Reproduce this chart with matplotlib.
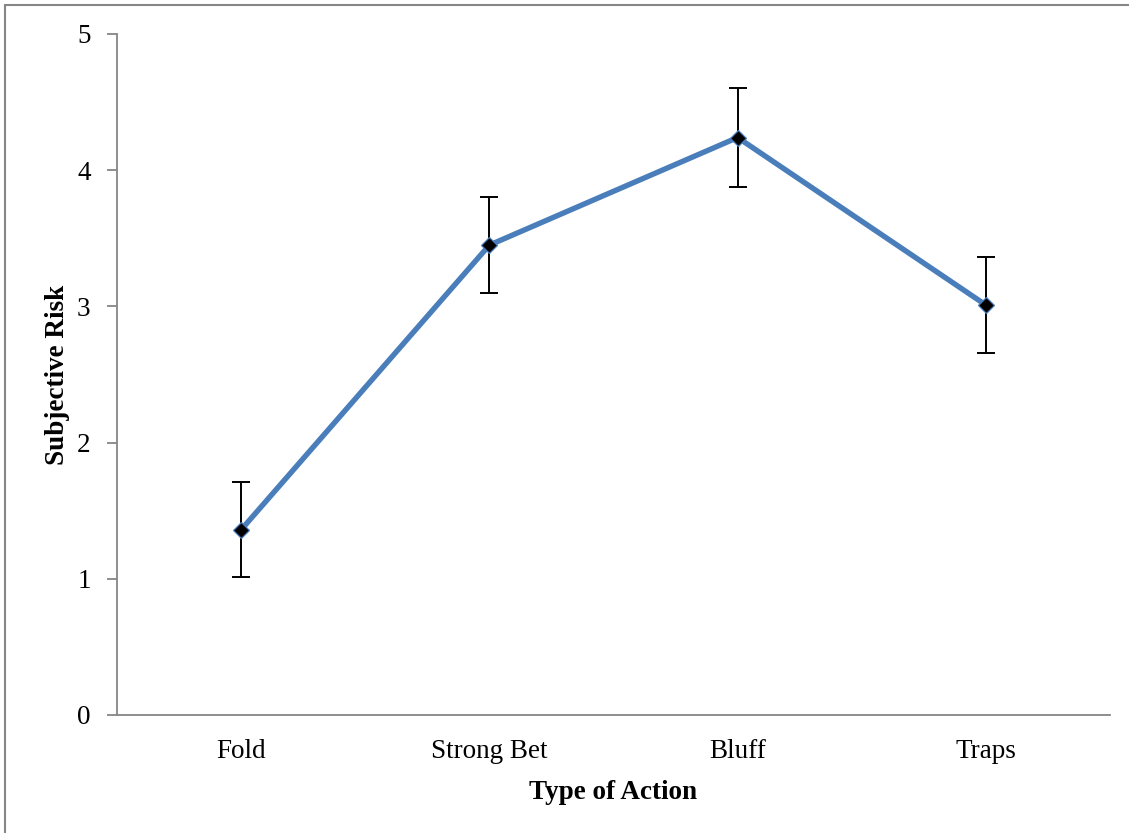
import matplotlib.pyplot as plt
from matplotlib.patches import Rectangle

actions = ["Fold", "Strong Bet", "Bluff", "Traps"]
risk = [1.36, 3.45, 4.24, 3.01]
risk_err = [0.35, 0.35, 0.36, 0.35]

plt.rcParams['font.family'] = ['Liberation Serif', 'DejaVu Serif']

fig = plt.figure(figsize=(11.29, 8.33), dpi=100)
ax = fig.add_axes([117 / 1129, 1 - 715 / 833, (1110 - 117) / 1129, (715 - 34) / 833])

x = list(range(len(actions)))
ax.errorbar(x, risk, yerr=risk_err, fmt='none', ecolor='black',
            elinewidth=1.4, capsize=6.5, capthick=1.4, zorder=2)
ax.plot(x, risk, color='#4A7EBB', lw=3.9, zorder=3,
        marker='D', markersize=8, markerfacecolor='black',
        markeredgecolor='#4A7EBB', markeredgewidth=0.9)

ax.set_xlim(-0.5, len(actions) - 0.5)
ax.set_ylim(0, 5)
ax.set_yticks([0, 1, 2, 3, 4, 5])
ax.set_xticks(x)
ax.set_xticklabels(actions)

for side in ['top', 'right']:
    ax.spines[side].set_visible(False)
for side in ['left', 'bottom']:
    ax.spines[side].set_color('#868686')
    ax.spines[side].set_linewidth(1.3)

ax.tick_params(axis='y', length=7, width=1.3, color='#868686', labelsize=19.5, pad=12)
ax.tick_params(axis='x', length=0, labelsize=19.5, pad=17)

ax.set_xlabel("Type of Action", fontsize=19.5, fontweight='bold', labelpad=12)
ax.set_ylabel("Subjective Risk", fontsize=19.5, fontweight='bold', labelpad=5)

# outer chart frame
fig.patches.append(Rectangle((5 / 1129, -0.1), 1.2, 1 - 5 / 833 + 0.1,
                             transform=fig.transFigure, fill=False,
                             edgecolor='#868686', lw=1.5))

fig.savefig("out.png", dpi=100)
